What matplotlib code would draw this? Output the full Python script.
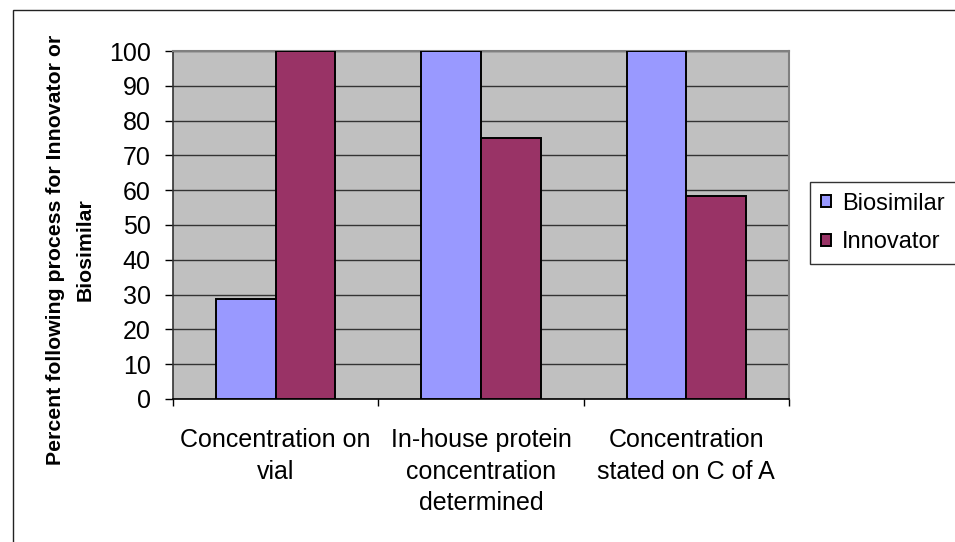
import matplotlib
matplotlib.use("Agg")
import matplotlib.pyplot as plt
from matplotlib.patches import Rectangle

categories = ["Concentration on\nvial",
              "In-house protein\nconcentration\ndetermined",
              "Concentration\nstated on C of A"]
series_names = ["Biosimilar", "Innovator"]
biosimilar = [28.6, 100, 100]
innovator = [100, 75, 58.3]
yticks = list(range(0, 101, 10))

plt.rcParams['font.family'] = ['Liberation Sans', 'DejaVu Sans']

W, H = 955, 542
fig = plt.figure(figsize=(W / 100, H / 100), dpi=100)
fig.patch.set_facecolor('white')

# outer chart frame
fig.patches.append(Rectangle((13 / W, -0.2), 2.0, 1 - 10 / H + 0.2,
                             transform=fig.transFigure, fill=False,
                             edgecolor='#222222', linewidth=1.0))

L, R, T, B = 173, 789, 51, 399
ax = fig.add_axes([L / W, 1 - B / H, (R - L) / W, (B - T) / H])
ax.set_facecolor('#C0C0C0')

x = list(range(len(categories)))
bw = 0.29
ax.bar([i - bw / 2 for i in x], biosimilar, width=bw, color='#9999FF',
       edgecolor='black', linewidth=1.4, label=series_names[0], zorder=3)
ax.bar([i + bw / 2 for i in x], innovator, width=bw, color='#993366',
       edgecolor='black', linewidth=1.4, label=series_names[1], zorder=3)

ax.set_xlim(-0.5, len(categories) - 0.5)
ax.set_ylim(0, 100)
ax.set_yticks(yticks)
ax.set_yticklabels([str(v) for v in yticks], fontsize=18)
ax.yaxis.grid(True, color='#333333', linewidth=1.0, zorder=1)
ax.set_axisbelow(True)

ax.set_xticks([i - 0.5 for i in range(len(categories) + 1)])
ax.set_xticklabels([])
ax.set_xticks(x, minor=True)
ax.set_xticklabels(categories, minor=True, fontsize=18, linespacing=1.4)
ax.tick_params(axis='x', which='major', length=5, width=1, color='black', direction='out')
ax.tick_params(axis='x', which='minor', length=0, pad=21)
ax.tick_params(axis='y', length=6, width=1, color='black', direction='out', pad=10)

for s in ['top', 'right']:
    ax.spines[s].set_color('#808080')
    ax.spines[s].set_linewidth(1.5)
ax.spines['left'].set_color('#333333')
ax.spines['left'].set_linewidth(1.2)
ax.spines['bottom'].set_color('black')
ax.spines['bottom'].set_linewidth(1.2)

fig.text(70 / W, 1 - 250 / H,
         "Percent following process for Innovator or\nBiosimilar",
         rotation=90, ha='center', va='center', fontsize=15.3,
         fontweight='bold', linespacing=1.7, multialignment='center')

leg = fig.legend(loc='upper left', bbox_to_anchor=(810 / W, 1 - 182 / H),
                 fontsize=17, frameon=True, fancybox=False, edgecolor='black',
                 handlelength=0.42, handleheight=0.42, handletextpad=0.5,
                 borderpad=0.45, labelspacing=0.7, borderaxespad=0)
leg.get_frame().set_linewidth(1.0)

fig.savefig("out.png", dpi=100)
